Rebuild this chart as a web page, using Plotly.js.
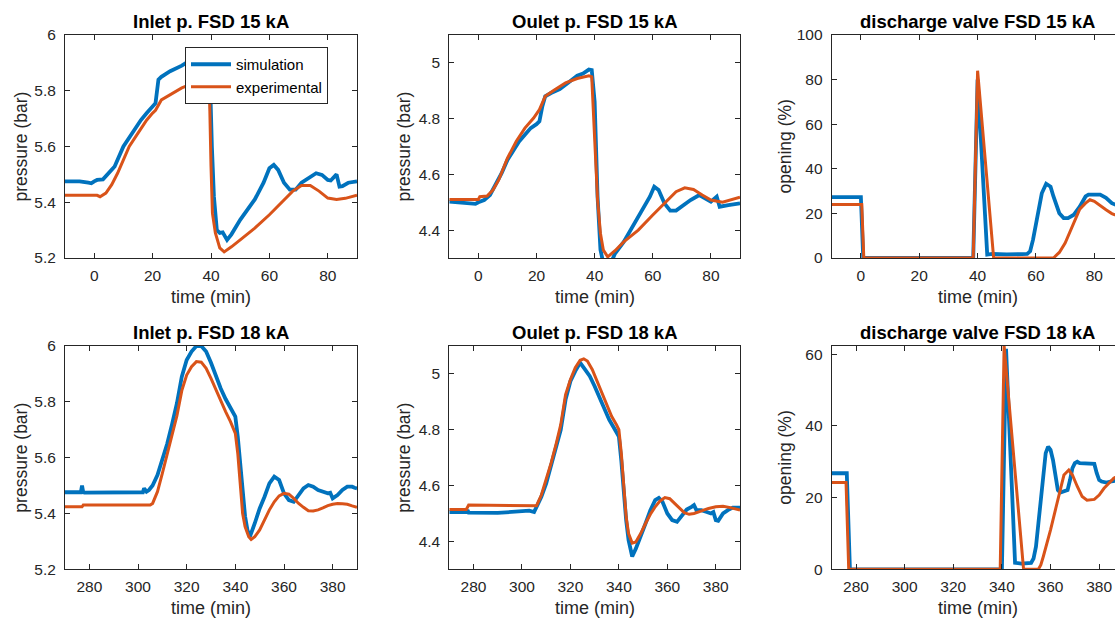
<!DOCTYPE html>
<html>
<head>
<meta charset="utf-8">
<script src="https://cdn.plot.ly/plotly-3.0.1.min.js"></script>
<style>
html, body { margin:0; padding:0; overflow:hidden; background:#fff; }
#chart { width:1140px; height:621px; }
</style>
</head>
<body>
<div id="chart"></div>
<script>
// ---------- data ----------
const seriesNames = ["simulation", "experimental"];
const panelTitles = ["Inlet p. FSD 15 kA", "Oulet p. FSD 15 kA", "discharge valve FSD 15 kA",
                     "Inlet p. FSD 18 kA", "Oulet p. FSD 18 kA", "discharge valve FSD 18 kA"];
const xLabel = "time (min)";
const yLabels = ["pressure (bar)", "pressure (bar)", "opening (%)"];

// Inlet pressure, 15 kA
const tIn15Sim = [-10, -5, -2, -1, 0, 1, 3, 5, 7, 10, 13, 16, 18, 20, 21, 22, 23, 26, 30, 33, 36, 39, 39.5, 40.3, 41, 42, 43, 44, 45.5, 47, 50, 55, 58, 60, 61.5, 63, 65, 67, 69, 71, 74, 76, 78, 80, 81, 82, 83, 84, 85, 87, 90];
const pIn15Sim = [5.475, 5.475, 5.47, 5.468, 5.475, 5.48, 5.482, 5.504, 5.528, 5.6, 5.648, 5.695, 5.72, 5.743, 5.755, 5.84, 5.85, 5.87, 5.89, 5.91, 5.93, 5.945, 5.9, 5.6, 5.42, 5.30, 5.29, 5.292, 5.265, 5.285, 5.337, 5.41, 5.47, 5.522, 5.534, 5.516, 5.47, 5.445, 5.445, 5.47, 5.49, 5.504, 5.498, 5.48, 5.478, 5.49, 5.5, 5.456, 5.458, 5.47, 5.475];
const tIn15Exp = [-10, 1, 2, 4, 6, 8, 10, 12, 15, 18, 20, 21, 23, 26, 30, 33, 36, 39, 39.5, 40, 40.5, 41.5, 43, 44.5, 47, 50, 55, 60, 65, 68, 71, 74, 77, 80, 83, 86, 90];
const pIn15Exp = [5.425, 5.425, 5.42, 5.433, 5.463, 5.504, 5.552, 5.6, 5.648, 5.695, 5.72, 5.73, 5.767, 5.785, 5.81, 5.823, 5.832, 5.838, 5.78, 5.53, 5.36, 5.29, 5.236, 5.222, 5.24, 5.265, 5.307, 5.355, 5.41, 5.44, 5.46, 5.46, 5.44, 5.415, 5.41, 5.414, 5.425];

// Outlet pressure, 15 kA
const tOut15Sim = [-10, -5, -1, 0, 2, 4, 6, 8, 10, 12, 14, 16, 18, 20, 21, 22, 23, 25, 28, 31, 34, 36, 38, 39, 40, 41, 42, 43, 44, 45.5, 47, 50, 53, 56, 59, 60.5, 62, 64, 66, 68, 70, 73, 76, 78, 80, 82, 83, 86, 90];
const pOut15Sim = [4.502, 4.498, 4.494, 4.5, 4.508, 4.526, 4.562, 4.604, 4.652, 4.688, 4.718, 4.742, 4.766, 4.78, 4.79, 4.844, 4.88, 4.892, 4.906, 4.93, 4.954, 4.962, 4.976, 4.974, 4.86, 4.52, 4.33, 4.28, 4.27, 4.28, 4.316, 4.358, 4.412, 4.46, 4.52, 4.556, 4.544, 4.496, 4.47, 4.47, 4.486, 4.508, 4.526, 4.514, 4.502, 4.52, 4.484, 4.49, 4.496];
const tOut15Exp = [-10, 0, 0.5, 3, 5, 7, 10, 13, 16, 19, 21, 23, 26, 30, 34, 38, 39, 40, 41, 42, 43, 44.5, 47, 50, 55, 60, 65, 68, 71, 74, 77, 80, 84, 87, 90];
const pOut15Exp = [4.51, 4.51, 4.52, 4.522, 4.544, 4.58, 4.658, 4.718, 4.766, 4.802, 4.832, 4.88, 4.902, 4.928, 4.944, 4.954, 4.95, 4.748, 4.508, 4.388, 4.328, 4.304, 4.326, 4.358, 4.4, 4.454, 4.508, 4.538, 4.552, 4.546, 4.526, 4.508, 4.5, 4.508, 4.518];

// Discharge valve opening, 15 kA
const tValve15Sim = [-10, 0, 0.8, 38.5, 40, 43.3, 45, 50, 57, 58, 59, 60.5, 62, 63.5, 65, 66, 68, 69.5, 71, 73, 75, 77, 78, 82, 84, 86, 87, 88, 90];
const oValve15Sim = [27.3, 27.3, 0, 0, 80, 1.5, 1.8, 1.6, 1.8, 3, 8.2, 18.7, 29, 33.3, 32, 27.6, 20.1, 17.9, 17.9, 19.4, 23, 27.6, 28.4, 28.4, 27, 24.6, 24.2, 23.5, 22];
const tValve15Exp = [-10, 0.3, 1, 38.5, 40, 45.5, 66, 68, 70, 72, 74, 75, 77, 78.5, 80, 82, 84, 86, 87, 90];
const oValve15Exp = [24, 24, 0, 0, 84, 0, 0, 2.5, 6.7, 12.7, 19.4, 21.9, 24.6, 26.1, 25.4, 23.4, 21.6, 19.9, 19.4, 18.5];

// Inlet pressure, 18 kA
const tIn18Sim = [270, 276.5, 277, 277.5, 278, 290, 302, 302.5, 303.5, 304.5, 306, 308, 310, 312, 314, 316, 318, 320, 322, 324, 326, 328, 330, 332, 334, 336, 338, 340, 341, 342, 343, 344, 345, 346, 348, 350, 352, 354, 356, 358, 360, 362, 364, 366, 368, 370, 372, 374, 376, 378, 379, 380, 382, 384, 386, 388, 389, 390];
const pIn18Sim = [5.476, 5.476, 5.5, 5.476, 5.475, 5.474, 5.476, 5.49, 5.478, 5.484, 5.5, 5.538, 5.59, 5.65, 5.72, 5.795, 5.89, 5.95, 5.98, 6.0, 6.0, 5.98, 5.94, 5.89, 5.848, 5.81, 5.78, 5.747, 5.675, 5.568, 5.46, 5.39, 5.34, 5.317, 5.365, 5.418, 5.46, 5.508, 5.532, 5.52, 5.472, 5.448, 5.442, 5.466, 5.49, 5.502, 5.496, 5.484, 5.478, 5.472, 5.474, 5.454, 5.466, 5.484, 5.496, 5.496, 5.492, 5.49];
const tIn18Exp = [270, 277, 277.5, 305, 306, 308, 310, 312, 314, 316, 318, 320, 322, 324, 326, 328, 330, 332, 334, 336, 338, 340, 341, 342, 343, 344, 345.5, 346.5, 348, 350, 352, 354, 356, 358, 360, 362, 364, 366, 368, 370, 372, 374, 376, 378, 380, 382, 384, 386, 388, 390];
const pIn18Exp = [5.424, 5.424, 5.43, 5.43, 5.436, 5.478, 5.544, 5.616, 5.68, 5.75, 5.84, 5.896, 5.926, 5.944, 5.942, 5.92, 5.884, 5.842, 5.8, 5.765, 5.729, 5.687, 5.615, 5.496, 5.40, 5.353, 5.317, 5.307, 5.317, 5.341, 5.377, 5.413, 5.442, 5.463, 5.472, 5.469, 5.454, 5.436, 5.422, 5.41, 5.409, 5.413, 5.42, 5.428, 5.433, 5.436, 5.435, 5.433, 5.427, 5.422];

// Outlet pressure, 18 kA
const tOut18Sim = [270, 277, 277.5, 278, 290, 303, 305, 306, 308, 310, 312, 314, 316, 318, 320, 322, 324, 326, 328, 330, 332, 334, 336, 338, 340, 341, 342, 343, 344, 345, 345.5, 347, 349, 351, 353, 355, 356.5, 358, 360, 362, 364, 366, 368, 370, 371, 372, 374, 376, 378, 379, 380, 381, 383, 385, 387, 390];
const pOut18Sim = [4.505, 4.505, 4.512, 4.503, 4.502, 4.51, 4.505, 4.524, 4.56, 4.608, 4.668, 4.734, 4.8, 4.908, 4.974, 5.01, 5.04, 5.016, 4.992, 4.956, 4.914, 4.872, 4.836, 4.806, 4.776, 4.69, 4.57, 4.476, 4.404, 4.356, 4.346, 4.374, 4.416, 4.464, 4.512, 4.548, 4.556, 4.542, 4.5, 4.476, 4.47, 4.494, 4.514, 4.524, 4.53, 4.512, 4.512, 4.506, 4.5, 4.505, 4.476, 4.474, 4.5, 4.512, 4.521, 4.521];
const tOut18Exp = [270, 277, 278, 306, 308, 310, 312, 314, 316, 318, 320, 322, 324, 325.5, 327, 329, 331, 333, 335, 337, 339, 340, 341, 342, 343, 344, 345.5, 347, 349, 351, 353, 355, 357, 359, 361, 363, 365, 367, 369, 371, 373, 375, 377, 380, 383, 386, 388, 390];
const pOut18Exp = [4.514, 4.514, 4.53, 4.528, 4.566, 4.62, 4.68, 4.746, 4.818, 4.926, 4.98, 5.022, 5.049, 5.054, 5.046, 5.016, 4.974, 4.932, 4.884, 4.848, 4.818, 4.8, 4.716, 4.584, 4.488, 4.428, 4.394, 4.398, 4.428, 4.464, 4.497, 4.524, 4.545, 4.557, 4.553, 4.536, 4.518, 4.503, 4.497, 4.5, 4.506, 4.512, 4.518, 4.524, 4.526, 4.521, 4.516, 4.512];

// Discharge valve opening, 18 kA
const tValve18Sim = [270, 276.2, 277.5, 340, 341.7, 345.4, 348, 352, 353, 354, 355, 356, 357, 358, 359, 360, 361, 362, 363, 364, 366, 367, 368, 369, 370, 371, 372, 378, 379, 380, 381, 383, 385, 387, 390];
const oValve18Sim = [26.8, 26.8, 0, 0, 61.5, 1.8, 1.6, 1.8, 3, 6.3, 12.8, 20.3, 27.7, 32.4, 34.2, 33.3, 30.5, 25.9, 22.1, 21.4, 21.7, 22.1, 24.9, 28.2, 29.6, 30, 29.6, 29.4, 26.8, 24.9, 24.5, 24.2, 24.5, 24.7, 25];
const tValve18Exp = [270, 275.9, 277, 339.3, 340.9, 348.9, 355, 356, 357, 358, 360, 362, 364, 365.5, 367.5, 369, 371, 373, 375, 378, 380, 382, 384, 386, 390];
const oValve18Exp = [24.2, 24.2, 0, 0, 62.3, 0, 0, 1.2, 3.5, 5.9, 11, 16.6, 22.1, 26.3, 27.7, 26.3, 23.1, 20.3, 19.3, 19.5, 20.7, 22.6, 24, 25.4, 27];

// ---------- figure ----------
const W = 1140, H = 621;
const FONT = "Liberation Sans, Arial, Helvetica, sans-serif";
const BLUE = "#0072BD", ORANGE = "#D95319", AX = "#262626";

const colPx = [[65, 357], [449.3, 740], [831.7, 1123.5]];
const rowPx = [[35, 258], [346, 569.3]];
const px2x = p => p / W;
const py2y = p => 1 - p / H;

const panels = [
  {sim: [tIn15Sim, pIn15Sim],   exp: [tIn15Exp, pIn15Exp],   xr: [-10, 90],  x0: 0,   yr: [5.2, 6],   dy: 0.2, y0: 5.2},
  {sim: [tOut15Sim, pOut15Sim], exp: [tOut15Exp, pOut15Exp], xr: [-10, 90],  x0: 0,   yr: [4.3, 5.1], dy: 0.2, y0: 4.4},
  {sim: [tValve15Sim, oValve15Sim], exp: [tValve15Exp, oValve15Exp], xr: [-10, 90], x0: 0, yr: [0, 100], dy: 20, y0: 0},
  {sim: [tIn18Sim, pIn18Sim],   exp: [tIn18Exp, pIn18Exp],   xr: [270, 390], x0: 280, yr: [5.2, 6],   dy: 0.2, y0: 5.2},
  {sim: [tOut18Sim, pOut18Sim], exp: [tOut18Exp, pOut18Exp], xr: [270, 390], x0: 280, yr: [4.3, 5.1], dy: 0.2, y0: 4.4},
  {sim: [tValve18Sim, oValve18Sim], exp: [tValve18Exp, oValve18Exp], xr: [270, 390], x0: 280, yr: [0, 62.3], dy: 20, y0: 0}
];

const traces = [];
const layout = {
  width: W, height: H,
  margin: {l: 0, r: 0, t: 0, b: 0},
  paper_bgcolor: "#fff", plot_bgcolor: "#fff",
  font: {family: FONT, color: AX},
  showlegend: true,
  legend: {
    x: px2x(185), y: py2y(47), xanchor: "left", yanchor: "top",
    bgcolor: "#fff", bordercolor: AX, borderwidth: 1,
    font: {family: FONT, size: 15, color: "#000"},
    tracegroupgap: 0, itemwidth: 40
  },
  annotations: []
};

panels.forEach((p, i) => {
  const col = i % 3, row = Math.floor(i / 3);
  const n = i === 0 ? "" : String(i + 1);
  const xa = "x" + n, ya = "y" + n;
  traces.push({x: p.sim[0], y: p.sim[1], xaxis: xa, yaxis: ya, type: "scatter", mode: "lines",
               name: seriesNames[0], showlegend: i === 0, line: {color: BLUE, width: 3.8}});
  traces.push({x: p.exp[0], y: p.exp[1], xaxis: xa, yaxis: ya, type: "scatter", mode: "lines",
               name: seriesNames[1], showlegend: i === 0, line: {color: ORANGE, width: 3}});
  const common = {
    showline: true, mirror: "ticks", linecolor: AX, linewidth: 1,
    ticks: "inside", ticklen: 5, tickwidth: 1, tickcolor: AX,
    showgrid: false, zeroline: false, automargin: false, fixedrange: true,
    tickfont: {family: FONT, size: 15.5, color: AX}
  };
  layout["xaxis" + n] = Object.assign({}, common, {
    domain: [px2x(colPx[col][0]), px2x(colPx[col][1])], anchor: ya,
    range: p.xr, tick0: p.x0, dtick: 20, ticklabelstandoff: 3
  });
  layout["yaxis" + n] = Object.assign({}, common, {
    domain: [py2y(rowPx[row][1]), py2y(rowPx[row][0])], anchor: xa,
    range: p.yr, tick0: p.y0, dtick: p.dy, ticklabelstandoff: 5
  });
  const cx = (colPx[col][0] + colPx[col][1]) / 2;
  const cy = (rowPx[row][0] + rowPx[row][1]) / 2;
  layout.annotations.push({
    text: "<b>" + panelTitles[i] + "</b>", xref: "paper", yref: "paper",
    x: px2x(cx), y: py2y(rowPx[row][0] - 14), xanchor: "center", yanchor: "middle",
    showarrow: false, font: {family: FONT, size: 18.5, color: "#000"}
  });
  layout.annotations.push({
    text: xLabel, xref: "paper", yref: "paper",
    x: px2x(cx), y: py2y(rowPx[row][1] + 39), xanchor: "center", yanchor: "middle",
    showarrow: false, font: {family: FONT, size: 18, color: AX}
  });
  const ylx = [21, 404, 785][col];
  layout.annotations.push({
    text: yLabels[col], xref: "paper", yref: "paper", textangle: -90,
    x: px2x(ylx), y: py2y(cy), xanchor: "center", yanchor: "middle",
    showarrow: false, font: {family: FONT, size: 17.5, color: AX}
  });
});

Plotly.newPlot("chart", traces, layout, {displayModeBar: false, staticPlot: true});
</script>
</body>
</html>
